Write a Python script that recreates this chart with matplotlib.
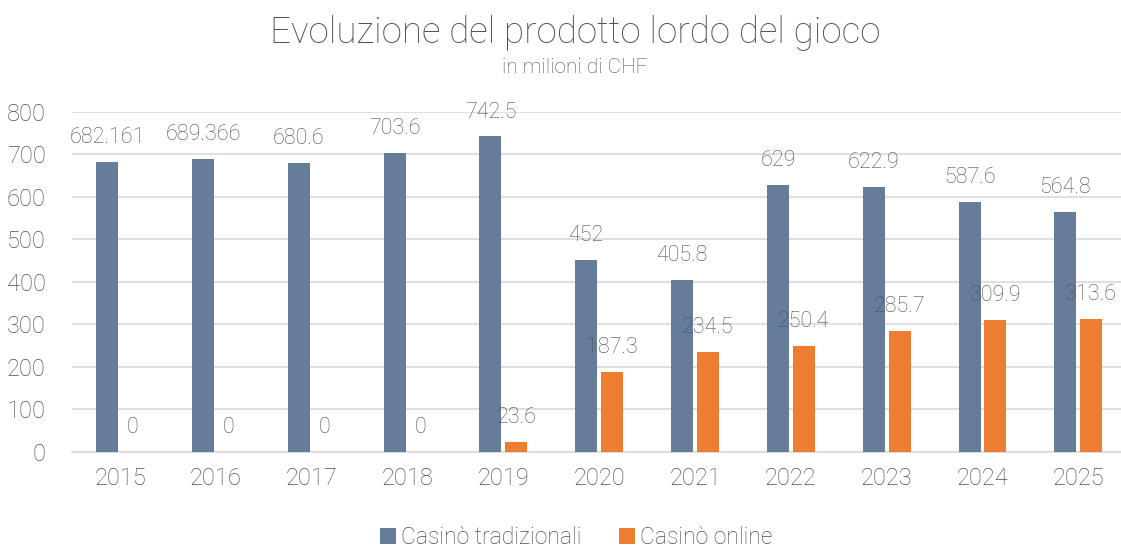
import matplotlib.pyplot as plt
import numpy as np

plt.rcParams['font.family'] = ['Roboto', 'DejaVu Sans']

anni = ['2015', '2016', '2017', '2018', '2019', '2020', '2021', '2022', '2023', '2024', '2025']
tradizionali = [682.161, 689.366, 680.6, 703.6, 742.5, 452, 405.8, 629, 622.9, 587.6, 564.8]
online = [0, 0, 0, 0, 23.6, 187.3, 234.5, 250.4, 285.7, 309.9, 313.6]
lab_trad = ['682.161', '689.366', '680.6', '703.6', '742.5', '452', '405.8', '629', '622.9', '587.6', '564.8']
lab_onl = ['0', '0', '0', '0', '23.6', '187.3', '234.5', '250.4', '285.7', '309.9', '313.6']

c_blu = '#657d9b'
c_ara = '#ed7d31'
grigio = '#505050'
peso = 'light'

fig = plt.figure(figsize=(11.21, 5.47), dpi=100)
ax = fig.add_axes([0.0644, 0.1737, 0.936, 0.6216])

x = np.arange(len(anni))
w = 0.23
off = 0.135
b1 = ax.bar(x - off, tradizionali, w, color=c_blu, label='Casinò tradizionali', zorder=3)
b2 = ax.bar(x + off, online, w, color=c_ara, label='Casinò online', zorder=3)
ax.bar_label(b1, labels=lab_trad, padding=10, fontsize=15.5, color=grigio, fontweight=peso)
ax.bar_label(b2, labels=lab_onl, padding=10, fontsize=15.5, color=grigio, fontweight=peso)

ax.set_ylim(0, 800)
ax.set_yticks(range(0, 801, 100))
ax.set_xlim(-0.5, 10.45)
ax.set_xticks(x)
ax.set_xticklabels(anni)
ax.tick_params(axis='both', length=0, labelsize=17, labelcolor=grigio)
ax.tick_params(axis='x', pad=11)
ax.tick_params(axis='y', pad=19)
for t in ax.get_xticklabels() + ax.get_yticklabels():
    t.set_fontweight(peso)
ax.yaxis.grid(True, color='#d9d9d9', linewidth=1.2, zorder=0)
for s in ['top', 'right', 'left']:
    ax.spines[s].set_visible(False)
ax.spines['bottom'].set_color('#d9d9d9')
ax.spines['bottom'].set_linewidth(1.2)

fig.text(0.513, 0.94, 'Evoluzione del prodotto lordo del gioco', ha='center', va='center',
         fontsize=26.5, color=grigio, fontweight=peso)
fig.text(0.513, 0.877, 'in milioni di CHF', ha='center', va='center',
         fontsize=15, color=grigio, fontweight=peso)

leg = fig.legend(handles=[b1, b2], loc='center', bbox_to_anchor=(0.514, 0.018), ncol=2,
                 frameon=False, fontsize=16.5, handlelength=0.7, handleheight=0.7,
                 handletextpad=0.25, columnspacing=1.6)
for t in leg.get_texts():
    t.set_color(grigio)
    t.set_fontweight(peso)

fig.savefig('out.png', dpi=100)
